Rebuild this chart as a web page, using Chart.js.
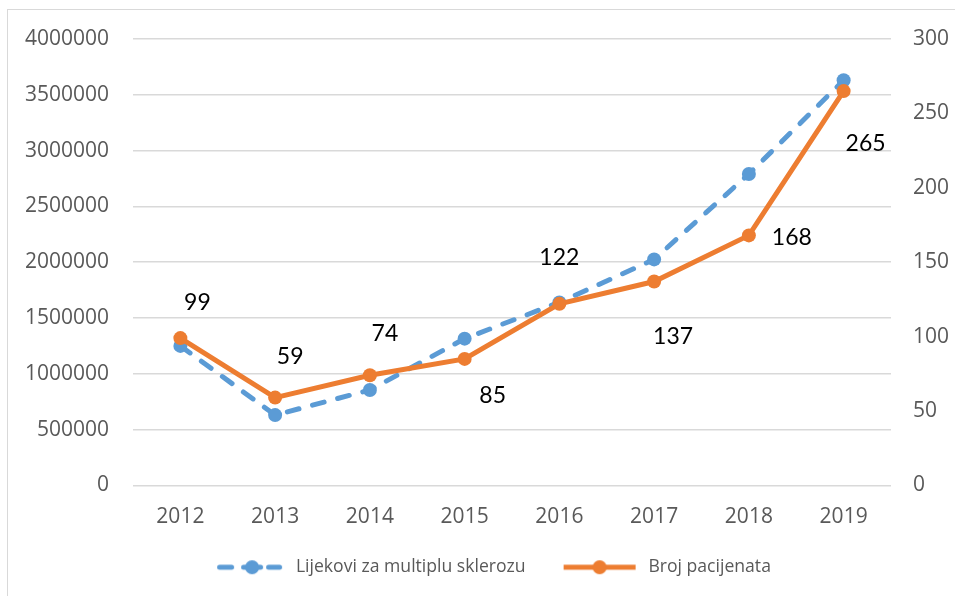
<!DOCTYPE html>
<html>
<head>
<meta charset="utf-8">
<script src="https://cdn.jsdelivr.net/npm/chart.js@4"></script>
<style>
    body { margin: 0; background: #fff; }
    #wrap { position: relative; width: 955px; height: 596px; overflow: hidden; }
    #frame { position: absolute; left: 7px; top: 9px; width: 1000px; height: 1000px; border: 1.5px solid #d9d9d9; }
    #chart { position: absolute; left: 0; top: 0; }
</style>
</head>
<body>
<div id="wrap">
    <div id="frame"></div>
    <canvas id="chart" width="955" height="596"></canvas>
</div>
<script>
// Data
const years = ['2012', '2013', '2014', '2015', '2016', '2017', '2018', '2019'];
const drugCosts = [1250000, 630000, 855000, 1315000, 1640000, 2025000, 2790000, 3630000];
const patients = [99, 59, 74, 85, 122, 137, 168, 265];
const leftTicks = [0, 500000, 1000000, 1500000, 2000000, 2500000, 3000000, 3500000, 4000000];
const rightTicks = [0, 50, 100, 150, 200, 250, 300];

const BLUE = '#5b9bd5';
const ORANGE = '#ed7d31';

// Legend icon: line + dot, with a blank strip on the left for item spacing
const ICON_GAP = 15;
const ICON_W = ICON_GAP + 72;
function legendIcon(color, dashed) {
    const c = document.createElement('canvas');
    c.width = ICON_W; c.height = 16;
    const g = c.getContext('2d');
    const L = ICON_GAP;
    g.strokeStyle = color;
    g.fillStyle = color;
    g.lineWidth = 5;
    g.beginPath();
    if (dashed) {
        g.lineCap = 'round';
        g.moveTo(L + 4.5, 8); g.lineTo(L + 16.5, 8);
        g.moveTo(L + 28.5, 8); g.lineTo(L + 45.5, 8);
        g.moveTo(L + 53.5, 8); g.lineTo(L + 64.5, 8);
    } else {
        g.lineCap = 'butt';
        g.moveTo(L - 4, 8); g.lineTo(L + 68, 8);
    }
    g.stroke();
    g.beginPath();
    g.arc(L + (dashed ? 37 : 32), 8, 7, 0, Math.PI * 2);
    g.fill();
    return c;
}

// Value labels next to the orange points (manual placement like the original)
const labelShift = [[17, -36], [15, -41], [15, -42], [28, 37], [0, -46], [19, 55], [43, 2], [22, 52]];
const valueLabels = {
    id: 'valueLabels',
    afterDatasetsDraw(chart) {
        const ctx = chart.ctx;
        const meta = chart.getDatasetMeta(1);
        ctx.save();
        ctx.font = '23px Lato';
        ctx.fillStyle = '#000';
        ctx.textAlign = 'center';
        ctx.textBaseline = 'middle';
        meta.data.forEach((pt, i) => {
            ctx.fillText(String(patients[i]), pt.x + labelShift[i][0], pt.y + labelShift[i][1]);
        });
        ctx.restore();
    }
};

const tickFont = { family: 'Open Sans', size: 21 };

new Chart(document.getElementById('chart'), {
    type: 'line',
    data: {
        labels: years,
        datasets: [
            {
                label: 'Lijekovi za multiplu sklerozu',
                data: drugCosts,
                yAxisID: 'y',
                borderColor: BLUE,
                backgroundColor: BLUE,
                borderWidth: 5,
                borderDash: [12, 14],
                borderCapStyle: 'round',
                pointRadius: 7,
                pointBorderWidth: 0,
                tension: 0,
                order: 1
            },
            {
                label: 'Broj pacijenata',
                data: patients,
                yAxisID: 'y1',
                borderColor: ORANGE,
                backgroundColor: ORANGE,
                borderWidth: 5,
                borderCapStyle: 'round',
                pointRadius: 7,
                pointBorderWidth: 0,
                tension: 0,
                order: 0
            }
        ]
    },
    options: {
        responsive: false,
        animation: false,
        layout: { padding: { top: 39, bottom: 10, left: 16, right: 0 } },
        plugins: {
            tooltip: { enabled: false },
            legend: {
                position: 'bottom',
                labels: {
                    usePointStyle: true,
                    pointStyleWidth: ICON_W,
                    padding: 27,
                    color: '#595959',
                    font: { family: 'Open Sans', size: 17.6 },
                    generateLabels(chart) {
                        return chart.data.datasets.map((ds, i) => ({
                            text: ds.label,
                            pointStyle: legendIcon(ds.borderColor, i === 0),
                            fillStyle: ds.borderColor,
                            strokeStyle: ds.borderColor,
                            lineWidth: 0,
                            hidden: false,
                            datasetIndex: i,
                            fontColor: '#595959'
                        }));
                    }
                }
            }
        },
        scales: {
            x: {
                offset: true,
                grid: { display: false },
                border: { display: false },
                ticks: { color: '#595959', font: tickFont, padding: 11, maxRotation: 0 },
                afterFit(scale) { scale.height = 46; }
            },
            y: {
                position: 'left',
                min: 0,
                max: 4000000,
                afterBuildTicks(scale) { scale.ticks = leftTicks.map(v => ({ value: v })); },
                grid: { color: '#d9d9d9', lineWidth: 1.5, drawTicks: false },
                border: { display: false },
                ticks: { color: '#595959', font: tickFont, padding: 24, callback: v => String(v) },
                afterFit(scale) { scale.width = 117; }
            },
            y1: {
                position: 'right',
                min: 0,
                max: 300,
                afterBuildTicks(scale) { scale.ticks = rightTicks.map(v => ({ value: v })); },
                grid: { display: false, drawTicks: false },
                border: { display: false },
                ticks: { color: '#595959', font: tickFont, padding: 22, callback: v => String(v) },
                afterFit(scale) { scale.width = 64; }
            }
        }
    },
    plugins: [valueLabels]
});
</script>
</body>
</html>
